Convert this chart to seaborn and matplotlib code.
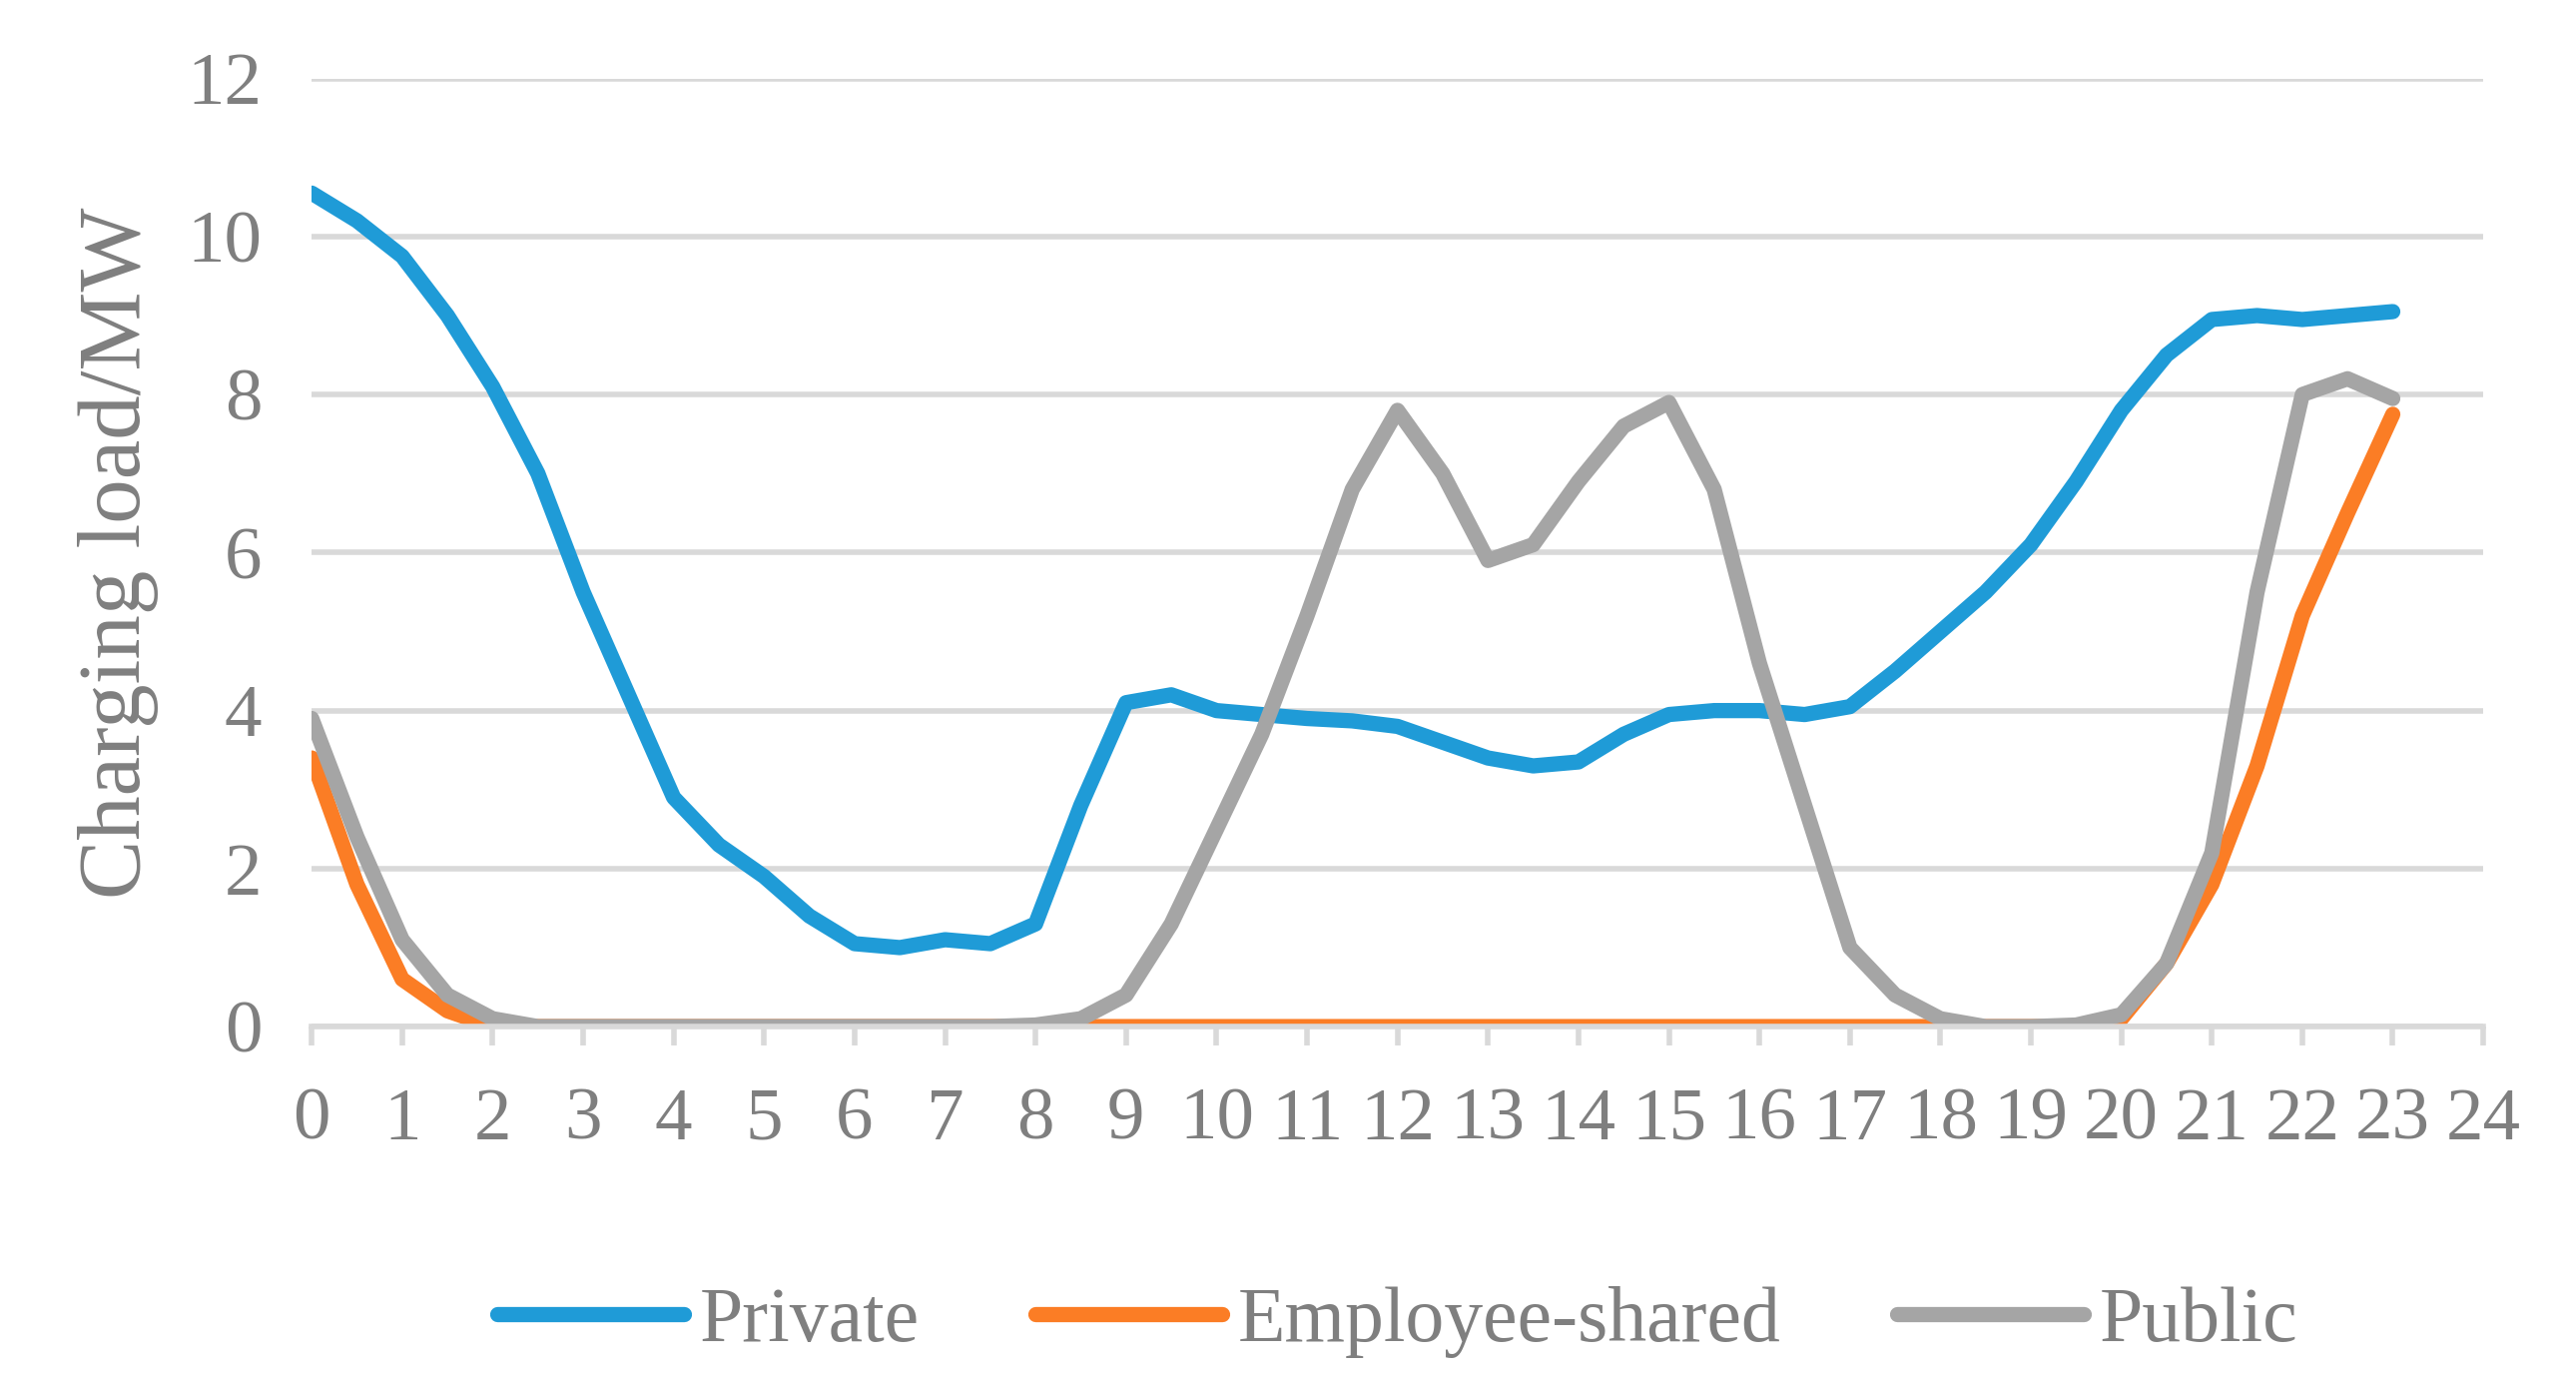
import numpy as np
import pandas as pd
from matplotlib import pyplot as plt
import seaborn as sns

hours = [i * 0.5 for i in range(47)]
private = [10.55, 10.2, 9.75, 9.0, 8.1, 7.0, 5.5, 4.2, 2.9, 2.3, 1.9, 1.4, 1.05, 1.0, 1.1, 1.05,
           1.3, 2.8, 4.1, 4.2, 4.0, 3.95, 3.9, 3.87, 3.8, 3.6, 3.4, 3.3, 3.35, 3.7, 3.95, 4.0,
           4.0, 3.95, 4.05, 4.5, 5.0, 5.5, 6.1, 6.9, 7.8, 8.5, 8.95, 9.0, 8.95, 9.0, 9.05]
employee = [3.4, 1.8, 0.6, 0.2, 0.0] + [0.0] * 35 + [0.1, 0.8, 1.8, 3.3, 5.2, 6.5, 7.75]
public = [3.9, 2.4, 1.1, 0.4, 0.1, 0.0, 0.0, 0.0, 0.0, 0.0, 0.0, 0.0, 0.0, 0.0, 0.0, 0.0,
          0.02, 0.1, 0.4, 1.3, 2.5, 3.7, 5.2, 6.8, 7.8, 7.0, 5.9, 6.1, 6.9, 7.6, 7.9, 6.8,
          4.6, 2.8, 1.0, 0.4, 0.1, 0.0, 0.0, 0.02, 0.15, 0.8, 2.2, 5.5, 8.0, 8.2, 7.95]

df = pd.DataFrame({'hour': hours * 3,
                   'load': private + employee + public,
                   'type': ['Private'] * 47 + ['Employee-shared'] * 47 + ['Public'] * 47})

sns.set_theme(style="white")
plt.rcParams['font.family'] = ['Liberation Serif', 'DejaVu Serif']
txt = '#7f7f7f'

fig, ax = plt.subplots(figsize=(25.8, 13.8), dpi=100)
fig.subplots_adjust(left=0.121, right=0.964, top=0.943, bottom=0.255)
sns.lineplot(data=df, x='hour', y='load', hue='type', ax=ax, linewidth=11,
             palette=['#1f9bd7', '#fb7d25', '#a5a5a5'])
for l in ax.get_lines():
    l.set_solid_joinstyle('round')
    l.set_solid_capstyle('round')

ax.set_xlim(0, 24)
ax.set_ylim(0, 12)
ax.set_xticks(range(25))
ax.set_yticks(range(0, 13, 2))
ax.grid(axis='y', color='#d9d9d9', linewidth=4)
for s in ['top', 'right', 'left']:
    ax.spines[s].set_visible(False)
ax.spines['bottom'].set_color('#d9d9d9')
ax.spines['bottom'].set_linewidth(4)
ax.tick_params(axis='x', bottom=True, length=14, width=4, color='#d9d9d9',
               labelsize=54, labelcolor=txt, pad=30)
ax.tick_params(axis='y', labelsize=54, labelcolor=txt, pad=30)
ax.set_xlabel('')
ax.set_ylabel('Charging load/MW', fontsize=64, color=txt, labelpad=20)

ax.legend(loc='upper center', bbox_to_anchor=(0.5, -0.2), ncol=3, frameon=False,
          fontsize=56, labelcolor=txt, handlelength=2.4, handletextpad=0.2,
          columnspacing=1.5)
for l in ax.get_legend().get_lines():
    l.set_linewidth(11)

fig.savefig('out.png')
